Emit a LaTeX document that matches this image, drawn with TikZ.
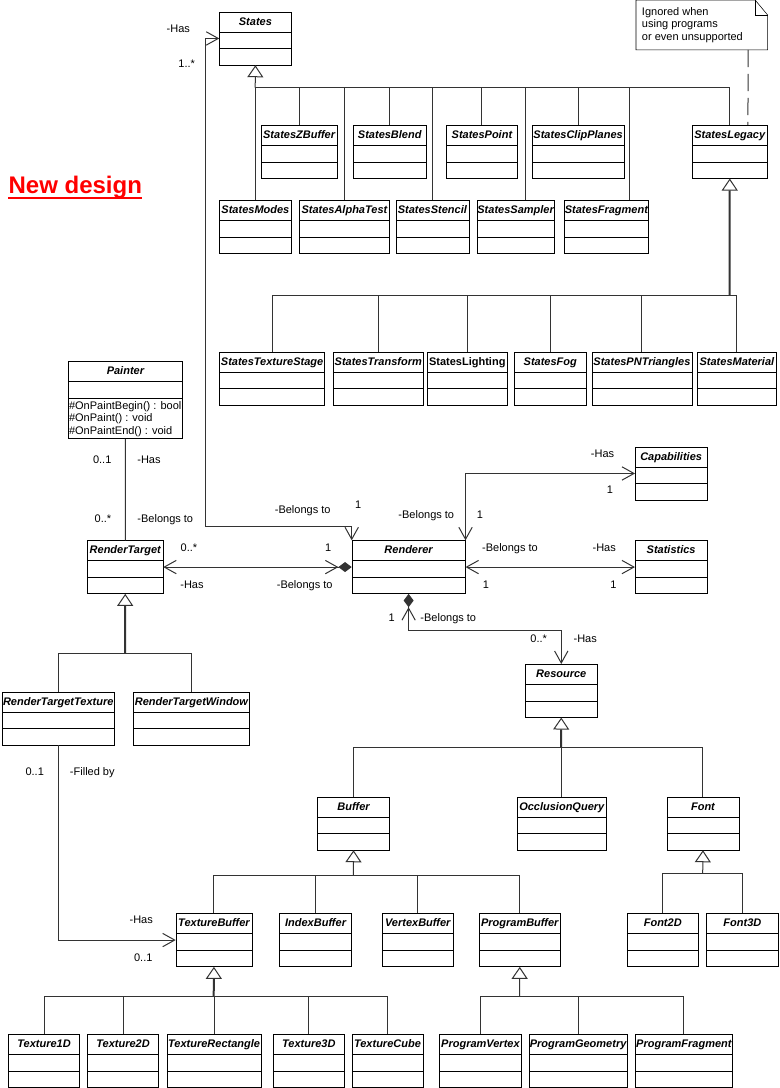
\documentclass[tikz,border=0pt]{standalone}
\usepackage{fontspec}
\setmainfont{Liberation Sans}
\usetikzlibrary{arrows.meta}

\newcommand{\umlcls}[5]{\node[cls, minimum width={(#4-#2)*0.75pt}] (#1) at (#2,#3) {#5};}

\begin{document}
\begin{tikzpicture}[
  x=0.75pt, y=-0.75pt,
  cls/.style={draw, rectangle, anchor=north west, inner sep=0pt,
    font=\fontsize{8.25}{10}\selectfont\bfseries\itshape,
    text height=10pt, text depth=29.75pt,
    path picture={\draw ([yshift=-15pt]path picture bounding box.north west) -- ([yshift=-15pt]path picture bounding box.north east)
      ([yshift=-27.4pt]path picture bounding box.north west) -- ([yshift=-27.4pt]path picture bounding box.north east);}},
  lbl/.style={inner sep=0pt, font=\fontsize{8.25}{10}\selectfont, text height=5.9pt, text depth=0pt},
  Nav/.tip={Straight Barb[length=9pt, width=10pt]},
  Comp/.tip={Diamond[length=10pt, width=7.5pt]},
  >=Nav,
  link/.style={draw=black!80, line width=0.75pt},
  inherit/.style={link, -{Triangle[open, fill=white, length=9pt, width=12pt, line width=0.75pt]}},
  trunk/.style={inherit, line width=1.5pt}
  ]
  \useasboundingbox (0,0) rectangle (779,1088);

  \node[inner sep=0pt, anchor=base, text=red, font=\fontsize{18}{20}\selectfont\bfseries] (Title) at (75.3,193) {New design};
  \draw[red, line width=1.5pt] ([yshift=-3.4pt]Title.base west) -- ([yshift=-3.4pt]Title.base east);

  % classes
  \foreach \n/\x/\y/\r in {States/219.3/11.7/291,
    StatesZBuffer/261/125/336.7, StatesBlend/353.3/125/425.7, StatesPoint/446/125/517.3,
    StatesClipPlanes/531.7/125/624, StatesLegacy/692.3/125/766.7,
    StatesModes/219.3/200/291, StatesAlphaTest/299.3/200/389, StatesStencil/395.7/200/468.5,
    StatesSampler/476.7/200/554, StatesFragment/564/200/648.3,
    StatesTextureStage/219.3/351.7/324.3, StatesTransform/332.7/351.7/423.3,
    StatesFog/514.3/351.7/585.7, StatesPNTriangles/591.7/351.7/691.7, StatesMaterial/697.3/351.7/776,
    Capabilities/635/446.7/706.7, RenderTarget/87.3/540.3/162.7, Renderer/351.7/540.3/465,
    Statistics/635/540.3/706.7, Resource/525/664/597,
    RenderTargetTexture/1.7/691.7/114.3, RenderTargetWindow/133.3/691.7/249,
    Buffer/317.3/796.7/389.3, OcclusionQuery/517.3/796.7/605.7, Font/666.7/796.7/738.7,
    TextureBuffer/175.7/913.3/251.7, IndexBuffer/279.3/913.3/351.3, VertexBuffer/381.7/913.3/453.3,
    ProgramBuffer/479/913.3/560, Font2D/626.7/913.3/698.3, Font3D/706/913.3/778.3,
    Texture1D/8.3/1034/79.3, Texture2D/87.3/1034/158.3, TextureRectangle/166.7/1034/261,
    Texture3D/272.7/1034/344.3, TextureCube/351.7/1034/422.7,
    ProgramVertex/439.3/1034/521, ProgramGeometry/529/1034/626.7, ProgramFragment/635/1034/732.3}
    \umlcls{\n}{\x}{\y}{\r}{\n};
  \umlcls{StatesLighting}{427.3}{351.7}{506.7}{\upshape StatesLighting}

  \node[cls, text depth=48pt, minimum width={113.7*0.75pt}] (Painter) at (68.3,361) {Painter};
  \foreach \t [count=\i] in {{\#OnPaintBegin() : bool}, {\#OnPaint() : void}, {\#OnPaintEnd() : void}}
    \node[lbl, anchor=base west] (op\i) at (68.8,396.5+12.5*\i) {\t};

  % note
  \node[inner sep=0pt, anchor=north west, minimum width={131*0.75pt}, minimum height={49.3*0.75pt}] (Note) at (636,0) {};
  \draw (Note.north west) -- ([xshift=-9.3pt]Note.north east) -- ([yshift=-11.2pt]Note.north east) -- (Note.south east) -- (Note.south west) -- cycle;
  \draw ([xshift=-9.3pt]Note.north east) -- ([xshift=-9.3pt, yshift=-11.2pt]Note.north east) -- ([yshift=-11.2pt]Note.north east);
  \node[inner sep=0pt, anchor=north west, align=left, font=\fontsize{8.25}{9.5}\selectfont] (NoteText) at (641.7,7) {Ignored when\\using programs\\or even unsupported};
  \draw[link, dash pattern=on 13pt off 5pt] ([xshift=-14.5pt]Note.south east) -- ([xshift=-14.5pt]StatesLegacy.north east);

  % generalisations
  \coordinate (StatesBus) at (255.2,87.7);
  \foreach \c in {StatesModes, StatesZBuffer, StatesAlphaTest, StatesBlend, StatesStencil, StatesPoint, StatesClipPlanes, StatesLegacy}
    \draw[link] (\c.north) |- (StatesBus);
  \draw[link] ([xshift=7.2pt]StatesSampler.north) |- (StatesBus);
  \draw[link] ([xshift=17.4pt]StatesFragment.north) |- (StatesBus);
  \draw[inherit] (StatesBus) -- (States.south);

  \coordinate (LegacyBus) at (729.5,295);
  \foreach \c in {StatesTextureStage, StatesTransform, StatesLighting, StatesFog, StatesPNTriangles, StatesMaterial}
    \draw[link] (\c.north) |- (LegacyBus);
  \draw[trunk] (LegacyBus) -- (StatesLegacy.south);

  \coordinate (TargetBus) at (125,653.3);
  \foreach \c in {RenderTargetTexture, RenderTargetWindow}
    \draw[link] (\c.north) |- (TargetBus);
  \draw[trunk] (TargetBus) -- (RenderTarget.south);

  \coordinate (ResourceBus) at (561,747.7);
  \foreach \c in {Buffer, OcclusionQuery, Font}
    \draw[link] (\c.north) |- (ResourceBus);
  \draw[trunk] (ResourceBus) -- (Resource.south);

  \coordinate (BufferBus) at (353.3,875);
  \foreach \c in {TextureBuffer, IndexBuffer, VertexBuffer, ProgramBuffer}
    \draw[link] (\c.north) |- (BufferBus);
  \draw[inherit] (BufferBus) -- (Buffer.south);

  \coordinate (FontBus) at (702.7,873.3);
  \foreach \c in {Font2D, Font3D}
    \draw[link] (\c.north) |- (FontBus);
  \draw[inherit] (FontBus) -- (Font.south);

  \coordinate (TextureBus) at (213.7,996);
  \foreach \c in {Texture1D, Texture2D, TextureRectangle, Texture3D, TextureCube}
    \draw[link] (\c.north) |- (TextureBus);
  \draw[trunk] (TextureBus) -- (TextureBuffer.south);

  \coordinate (ProgramBus) at (519.5,996);
  \foreach \c in {ProgramVertex, ProgramGeometry, ProgramFragment}
    \draw[link] (\c.north) |- (ProgramBus);
  \draw[inherit] (ProgramBus) -- (ProgramBuffer.south);

  % associations
  \coordinate (StatesLink) at (205,526);
  \draw[link, <->] (States.west) -| (StatesLink) -| (Renderer.north west);
  \draw[link, <->] (Renderer.north east) |- (Capabilities.west);
  \draw[link, <->] (Renderer.east) -- (Statistics.west);
  \draw[link, {Nav[]}-{Nav[]Comp[]}] (RenderTarget.east) -- (Renderer.west);
  \draw[link, {Comp[]Nav[]}-{Nav[]}] (Renderer.south) -- ++(0,36.7) -| (Resource.north);
  \draw[link] (Painter.south) -- (RenderTarget.north);
  \draw[link, ->] (RenderTargetTexture.south) |- (TextureBuffer.west);

  \foreach \x/\y/\t [count=\i] in {178.3/28.3/-Has, 186.7/63.3/1..*, 302.7/510/-Belongs to, 358.3/505/1,
    102.2/459.3/0..1, 149/459.3/-Has, 103/518.3/0..*, 165.3/518.3/-Belongs to,
    189/547.7/0..*, 328.3/547.7/1, 192/584.3/-Has, 304.7/584.3/-Belongs to,
    602.5/453.3/-Has, 610/490/1, 426.3/514.3/-Belongs to, 480/514.3/1,
    510/547.7/-Belongs to, 604.2/547.7/-Has, 486/584.3/1, 613.3/584.3/1,
    391.7/617.7/1, 448.3/617.7/-Belongs to, 538.7/638.3/0..*, 585.2/638.3/-Has,
    34.7/771.7/0..1, 92.3/771.7/-Filled by, 141.2/920/-Has, 143.3/957.3/0..1}
    \node[lbl] (l\i) at (\x,\y) {\t};
\end{tikzpicture}
\end{document}
